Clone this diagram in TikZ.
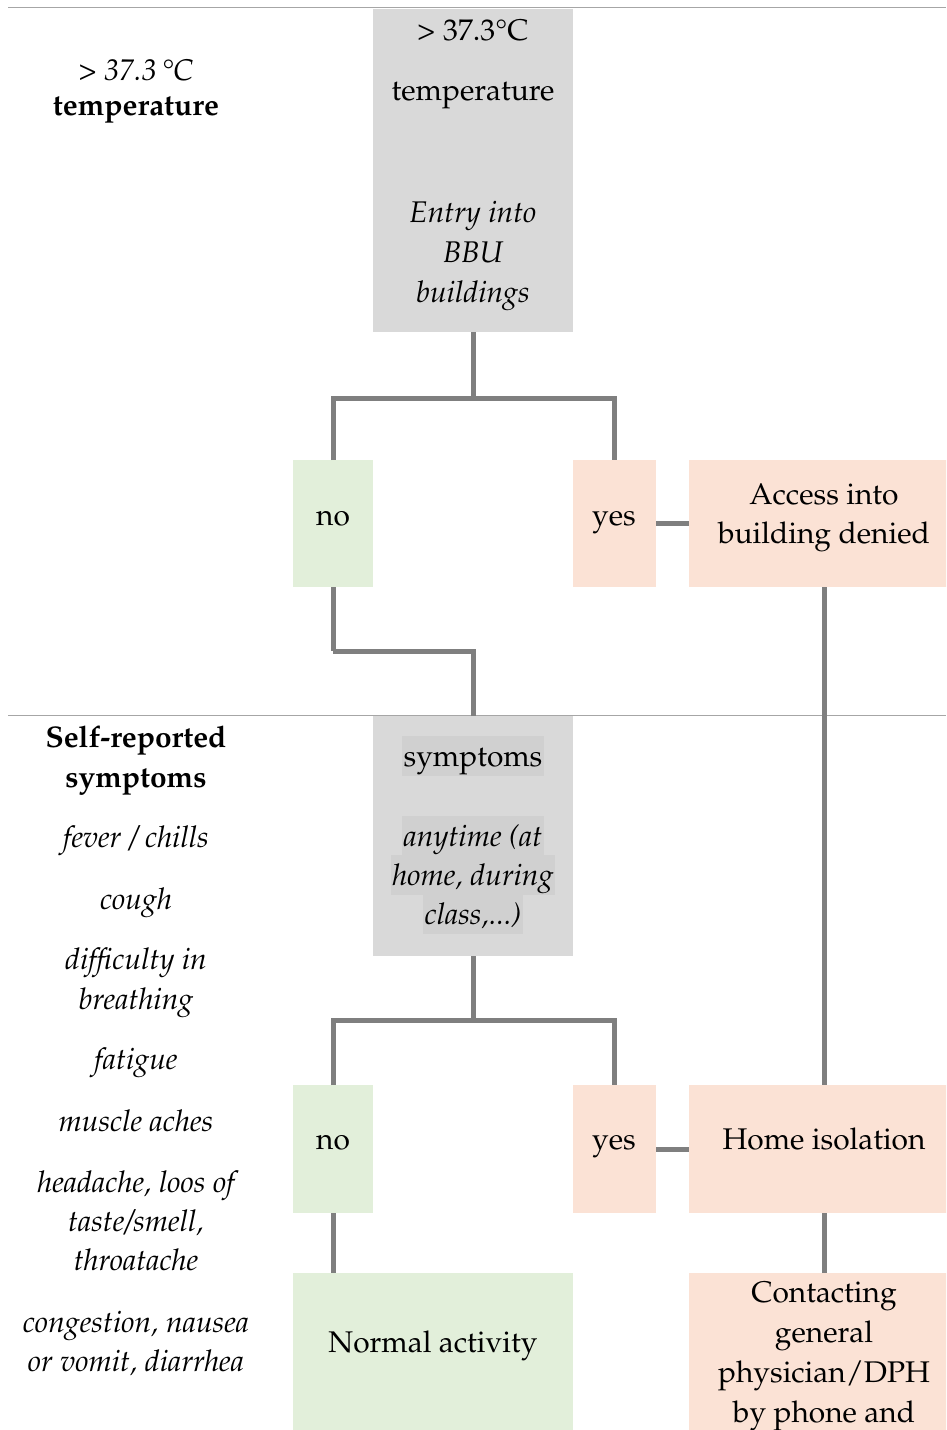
\documentclass[tikz,border=0pt]{standalone}
\usepackage[T1]{fontenc}
\usepackage{mathpazo}
\definecolor{boxgray}{HTML}{D9D9D9}
\definecolor{hlgray}{HTML}{D0D0D0}
\definecolor{nogreen}{HTML}{E2EFDA}
\definecolor{yespeach}{HTML}{FBE2D5}
\definecolor{conn}{HTML}{7F7F7F}
\definecolor{sepcol}{HTML}{A6A6A6}
\tikzset{
  box/.style={draw=none, inner sep=0pt, anchor=north west},
  graybox/.style={box, fill=boxgray},
  greenbox/.style={box, fill=nogreen},
  peachbox/.style={box, fill=yespeach},
  txt/.style={font=\fontsize{30}{40}\selectfont, inner sep=0pt, anchor=base},
  itxt/.style={txt, font=\fontsize{30}{40}\selectfont\itshape},
  btxt/.style={txt, font=\fontsize{30}{40}\selectfont\bfseries},
  hl/.style={fill=hlgray, inner xsep=1.5bp, inner ysep=0pt, text height=30bp, text depth=10bp},
  link/.style={draw=conn, line width=5bp},
  sepline/.style={draw=sepcol, line width=1bp},
}
\begin{document}
\begin{tikzpicture}[x=1bp, y=-1bp]
\useasboundingbox (0,0) rectangle (946,1430);
\clip (0,0) rectangle (946,1430);

% separator lines
\coordinate (s1a) at (8,8);
\coordinate (s1b) at (946,8);
\coordinate (s2a) at (8,715);
\coordinate (s2b) at (946,715);
\draw[sepline] (s1a) -- (s1b);
\draw[sepline] (s2a) -- (s2b);

% ---- stage 1 ----
\node[graybox, minimum width=200bp, minimum height=323bp] (g1) at (373,9) {};
\node[greenbox, minimum width=80bp, minimum height=127bp] (no1) at (293,460) {};
\node[peachbox, minimum width=83bp, minimum height=127bp] (yes1) at (573,460) {};
\node[peachbox, minimum width=270bp, minimum height=127bp] (acc) at (689,460) {};

\node[txt] (g1a) at (473,41) {\textgreater{} 37.3\textdegree C};
\node[txt] (g1b) at (473,101) {temperature};
\node[itxt] (g1c) at (473,222) {Entry into};
\node[itxt] (g1d) at (473,262) {BBU};
\node[itxt] (g1e) at (473,302) {buildings};
\node[txt] (no1t) at (333,525) {no};
\node[txt] (yes1t) at (614,525) {yes};
\node[txt] (acct1) at (824,504) {Access into};
\node[txt] (acct2) at (824,543) {building denied};

\node[itxt] (l1) at (136,81) {\textgreater{} 37.3\,\textdegree C};
\node[btxt] (l2) at (136,116) {temperature};

\draw[link] (g1.south) -- ++(0,66) coordinate (j1);
\draw[link] (no1.north) |- (j1) -| (yes1.north);
\draw[link] (yes1) -- (acc);
\draw[link] (no1.south) -- ++(0,64) coordinate (j2);

% ---- stage 2 ----
\node[graybox, minimum width=200bp, minimum height=240bp] (g2) at (373,716) {};
\draw[link] (j2) -| (g2.north);
\node[greenbox, minimum width=80bp, minimum height=128bp] (no2) at (293,1085) {};
\node[peachbox, minimum width=83bp, minimum height=128bp] (yes2) at (573,1085) {};
\node[peachbox, minimum width=270bp, minimum height=128bp] (home) at (689,1085) {};
\node[greenbox, minimum width=280bp, minimum height=200bp] (norm) at (293,1273) {};
\node[peachbox, minimum width=270bp, minimum height=200bp] (cont) at (689,1273) {};

\node[txt, hl] (g2a) at (473,766) {symptoms};
\node[itxt, hl] (g2b) at (473,846) {anytime (at};
\node[itxt, hl] (g2c) at (473,885) {home, during};
\node[itxt, hl] (g2d) at (473,924) {class,...)};

\node[txt] (no2t) at (333,1149) {no};
\node[txt] (yes2t) at (614,1149) {yes};
\node[txt] (homet) at (824,1149) {Home isolation};
\node[txt] (normt) at (433,1352) {Normal activity};
\node[txt] (contt1) at (824,1302) {Contacting};
\node[txt] (contt2) at (824,1342) {general};
\node[txt] (contt3) at (824,1382) {physician/DPH};
\node[txt] (contt4) at (824,1422) {by phone and};

\node[btxt] (l3) at (136,747) {Self-reported};
\node[btxt] (l3b) at (136,787) {symptoms};
\node[itxt] (l4) at (136,847) {fever / chills};
\node[itxt] (l5) at (136,909) {cough};
\node[itxt] (l6) at (136,969) {difficulty in};
\node[itxt] (l6b) at (136,1009) {breathing};
\node[itxt] (l7) at (136,1069) {fatigue};
\node[itxt] (l8) at (136,1131) {muscle aches};
\node[itxt] (l9) at (136,1192) {headache, loos of};
\node[itxt] (l9b) at (136,1231) {taste/smell,};
\node[itxt] (l9c) at (136,1270) {throatache};
\node[itxt] (l10) at (136,1332) {congestion, nausea};
\node[itxt] (l10b) at (136,1371) {or vomit, diarrhea};

\draw[link] (g2.south) -- ++(0,64) coordinate (j3);
\draw[link] (no2.north) |- (j3) -| (yes2.north);
\draw[link] (yes2) -- (home);
\draw[link] (no2.south) -- (no2.south |- norm.north);
\draw[link] (acc) -- (home);
\draw[link] (home) -- (cont);
\end{tikzpicture}
\end{document}
